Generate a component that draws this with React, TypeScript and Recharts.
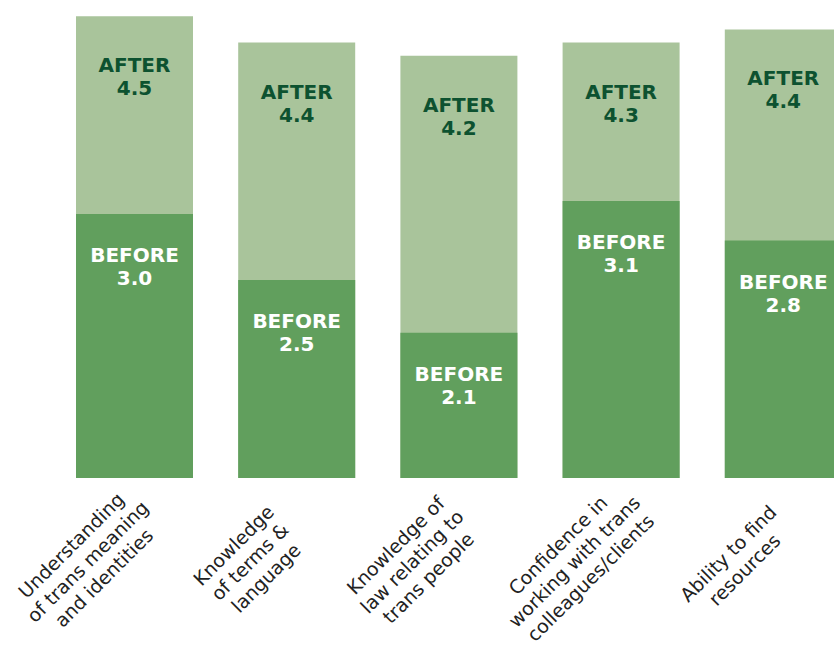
import React from 'react';
import { BarChart, Bar, XAxis, YAxis, LabelList } from 'recharts';

// categories (line breaks as in the original axis labels)
const categories = [
  'Understanding\nof trans meaning\nand identities',
  'Knowledge\nof terms &\nlanguage',
  'Knowledge of\nlaw relating to\ntrans people',
  'Confidence in\nworking with trans\ncolleagues/clients',
  'Ability to find\nresources',
];

// average scores (1-5 scale)
const beforeValues = [3.0, 2.5, 2.1, 3.1, 2.8];
const afterValues = [4.5, 4.3, 4.2, 4.3, 4.4];

// printed labels
const beforeLabels = ['3.0', '2.5', '2.1', '3.1', '2.8'];
const afterLabels = ['4.5', '4.4', '4.2', '4.3', '4.4'];

const data = categories.map((name, i) => ({
  name,
  before: beforeValues[i],
  after: afterValues[i],
}));

const FONT = '"DejaVu Sans", Verdana, sans-serif';

// rotated multi-line category label
const CategoryTick = (props: any) => {
  const { x, y, payload } = props;
  const lines = String(payload.value).split('\n');
  const mid = (lines.length - 1) / 2;
  return (
    <g transform={`translate(${x},${y}) rotate(-45)`}>
      <text textAnchor="middle" fontFamily={FONT} fontSize={19} fill="#222">
        {lines.map((line, i) => (
          <tspan key={i} x={-92} y={33 + (i - mid) * 23}>
            {line}
          </tspan>
        ))}
      </text>
    </g>
  );
};

// two-line label inside the bar, near its top
const makeBarLabel = (title: string, texts: string[], color: string, offset: number) => (props: any) => {
  const { x, y, width, index } = props;
  const cx = x + width / 2;
  return (
    <text textAnchor="middle" fontFamily={FONT} fontSize={20} fontWeight="bold" fill={color}>
      <tspan x={cx} y={y + offset}>{title}</tspan>
      <tspan x={cx} y={y + offset + 23}>{texts[index]}</tspan>
    </text>
  );
};

export default function App() {
  return (
    <div style={{ position: 'absolute', left: 0, top: 0, width: 834, height: 648, overflow: 'hidden', background: '#fff' }}>
      <BarChart width={864} height={648} data={data} margin={{ top: 3, right: 0, bottom: 0, left: 53 }}>
        <XAxis
          xAxisId="after"
          dataKey="name"
          height={170}
          axisLine={false}
          tickLine={false}
          tickSize={0}
          tickMargin={0}
          interval={0}
          tick={<CategoryTick />}
        />
        <XAxis xAxisId="before" dataKey="name" hide />
        <YAxis hide domain={[1, 4.6]} />
        <Bar xAxisId="after" dataKey="after" fill="#A9C49B" barSize={117} isAnimationActive={false}>
          <LabelList dataKey="after" content={makeBarLabel('AFTER', afterLabels, '#0D5230', 56)} />
        </Bar>
        <Bar xAxisId="before" dataKey="before" fill="#619F5D" barSize={117} isAnimationActive={false}>
          <LabelList dataKey="before" content={makeBarLabel('BEFORE', beforeLabels, '#FFFFFF', 48)} />
        </Bar>
      </BarChart>
    </div>
  );
}
